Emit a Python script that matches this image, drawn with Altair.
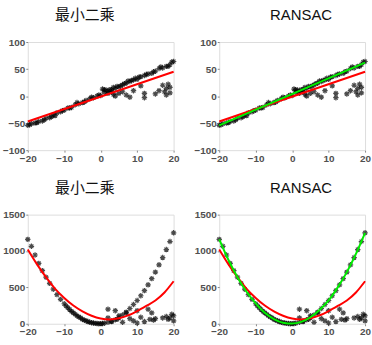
import altair as alt
import pandas as pd

# ---------- linear data (top row) ----------
lin_x = [-20, -19.5, -19, -18, -17.5, -17, -16, -15.5, -15, -14, -13.5, -13, -12.5, -12, -11,
         -10.5, -10, -9, -8.5, -8, -7, -6.5, -6, -5, -4.5, -4, -3, -2.5, -2, -1, -0.5, 0,
         0.5, 1, 1.5, 2, 2.5, 3, 3.5, 4, 4.5, 5, 5.5, 6, 6.5, 7, 7.5, 8, 8.5, 9, 9.5, 10,
         10.5, 11, 12, 12.5, 13, 14, 14.5, 15, 16, 16.5, 17, 18, 18.5, 19, 19.5, 20]
lin_y = [-54, -53, -51, -50, -49, -47, -46, -44, -41, -40, -38, -35, -36, -31, -29,
         -27, -26, -22, -22, -21, -16, -12, -14, -12, -11, -8, -5, -2, -3, 0, 2, 1,
         13, 7, 11, 9, 12, 12, 16, 14, 18, 17, 19, 21, 23, 24, 28, 27, 29, 30, 33, 31,
         35, 36, 38, 40, 41, 42, 45, 46, 51, 54, 52, 55, 55, 58, 63, 64]
lin_out_x = [1, 2, 3, 3.5, 4, 5, 6, 7, 8, 9, 11, 12, 12, 15, 16, 17, 17.5, 18, 18.5, 19, 19, 18]
lin_out_y = [12, 5, 8, 3, 0, 5, 8, 2, -2, 10, 19, 5, -3, 4, 10, 20, 8, 14, 22, 6, 16, 2]

lin_fit_x = [-20, 20]
lin_ls_y = [-47, 45]
lin_ransac_y = [-54, 62]

# ---------- quadratic data (bottom row) ----------
quad_x = [-20, -19, -18, -17, -16, -15, -14, -13, -12, -11, -10, -9.5, -9, -8.5, -8, -7.5,
          -7, -6.5, -6, -5.5, -5, -4.5, -4, -3.5, -3, -2.5, -2, -1.5, -1, -0.5, 0, 0.5,
          1, 2, 3, 4, 5, 6, 7, 8, 9, 10, 11, 12, 13, 14, 15, 16, 17, 18, 19, 20]
quad_y = [1160, 1065, 945, 830, 730, 640, 555, 475, 400, 335, 275, 245, 220, 195, 170, 150,
          130, 110, 95, 80, 60, 50, 40, 30, 20, 15, 10, 5, 3, 1, 2, 4,
          8, 20, 35, 55, 85, 120, 160, 210, 265, 320, 385, 455, 535, 620, 710, 810, 910, 1020, 1130, 1250]
quad_out_x = [2, 2, 3, 4, 4.5, 5, 6, 7, 8, 9, 10, 10, 11, 12, 13, 13.5, 14, 14.5, 15, 17, 18, 18.5, 19, 19.5, 20, 20]
quad_out_y = [200, 80, 30, 180, 60, 110, 20, 150, 70, 40, 180, 10, 90, 30, 200, 60, 150, 50, 70, 80, 100, 60, 80, 130, 40, 110]

quad_fit_x = [-20, -17.5, -15, -12.5, -10, -7.5, -5, -2.5, 0, 2.5, 5, 7.5, 10, 12.5, 15, 17.5, 20]
quad_ls_y = [1022, 820, 640, 480, 355, 250, 170, 110, 72, 60, 75, 115, 175, 245, 320, 430, 584]
quad_ransac_y = [1160, 880, 640, 440, 280, 150, 65, 15, 2, 25, 90, 190, 320, 500, 710, 960, 1250]

x_ticks = [-20, -10, 0, 10, 20]
lin_y_ticks = [-100, -50, 0, 50, 100]
quad_y_ticks = [0, 500, 1000, 1500]

titles = ["最小二乘", "RANSAC"]

STAR = "M-1,0L1,0M0,-1L0,1M-0.7,-0.7L0.7,0.7M-0.7,0.7L0.7,-0.7"
AXIS_COLOR = "#505050"


def panel(px, py, ox, oy, fx, ls, rs, ydom, yticks, title, ransac, h):
    pts = pd.DataFrame({"x": list(px) + list(ox), "y": list(py) + list(oy)})
    fit = pd.DataFrame({"x": fx, "ls": ls, "rs": rs})
    xs = alt.Scale(domain=[-20, 20], nice=False, zero=False)
    ys = alt.Scale(domain=ydom, nice=False, zero=False)
    common = dict(title=None, grid=False, domain=False, tickSize=2, tickColor="#888888",
                  labelPadding=1, labelFontSize=10, labelFontWeight="bold",
                  labelColor=AXIS_COLOR, labelFont="Liberation Sans",
                  labelFlush=False, labelOverlap=False, format="d")
    xax = alt.Axis(values=x_ticks, **common)
    yax = alt.Axis(values=yticks, **common)
    X = lambda f: alt.X(f"{f}:Q", scale=xs, axis=xax)
    Y = lambda f: alt.Y(f"{f}:Q", scale=ys, axis=yax)
    p = alt.Chart(pts).mark_point(shape=STAR, size=30, stroke="black", strokeWidth=1.2,
                                  opacity=0.7, filled=False).encode(x=X("x"), y=Y("y"))
    red = alt.Chart(fit).mark_line(color="#ff0000", strokeWidth=2, interpolate="monotone").encode(
        x=X("x"), y=Y("ls"))
    layers = [p, red]
    if ransac:
        green = alt.Chart(fit).mark_line(color="#00ee00", strokeWidth=2, interpolate="monotone").encode(
            x=X("x"), y=Y("rs"))
        layers.append(green)
    dx = 9 if ransac else -16
    font = "Liberation Sans" if ransac else "Noto Sans CJK SC"
    return alt.layer(*layers).properties(
        width=147, height=h,
        title=alt.TitleParams(title, fontSize=15, fontWeight="normal", font=font,
                              color="#111111", dx=dx, offset=14, anchor="middle"))


top = alt.hconcat(
    panel(lin_x, lin_y, lin_out_x, lin_out_y, lin_fit_x, lin_ls_y, lin_ransac_y,
          [-100, 100], lin_y_ticks, titles[0], False, 109),
    panel(lin_x, lin_y, lin_out_x, lin_out_y, lin_fit_x, lin_ls_y, lin_ransac_y,
          [-100, 100], lin_y_ticks, titles[1], True, 109),
    spacing=46, bounds="flush")
bottom = alt.hconcat(
    panel(quad_x, quad_y, quad_out_x, quad_out_y, quad_fit_x, quad_ls_y, quad_ransac_y,
          [0, 1500], quad_y_ticks, titles[0], False, 110),
    panel(quad_x, quad_y, quad_out_x, quad_out_y, quad_fit_x, quad_ls_y, quad_ransac_y,
          [0, 1500], quad_y_ticks, titles[1], True, 110),
    spacing=46, bounds="flush")

chart = alt.vconcat(top, bottom, spacing=16).properties(
    padding={"left": 1, "top": 6, "right": 0, "bottom": 0},
).configure_view(stroke="#888888", strokeWidth=1.2).configure(background="white")

chart.save("out.html", embed_options={"renderer": "svg", "actions": False})
